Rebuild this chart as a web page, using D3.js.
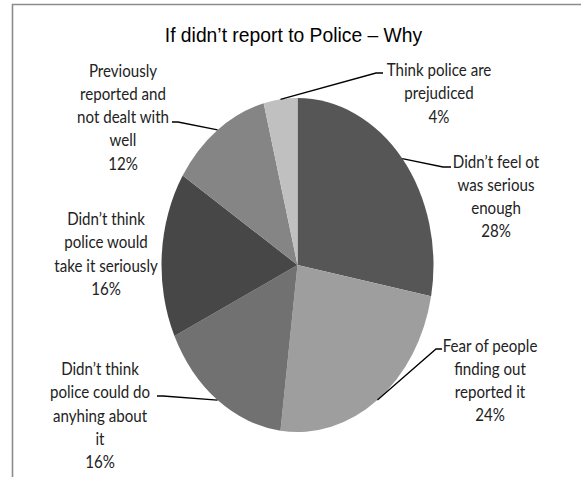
<!DOCTYPE html>
<html>
<head>
<meta charset="utf-8">
<script src="https://cdn.jsdelivr.net/npm/d3@7"></script>
<style>
  html, body { margin: 0; padding: 0; background: #fff; }
  svg { display: block; }
</style>
</head>
<body>
<svg id="chart" width="581" height="477"></svg>
<script>
// ---- data ----
const title = "If didn’t report to Police – Why";
const categories = [
  "Didn’t feel ot was serious enough",
  "Fear of people finding out reported it",
  "Didn’t think police could do anything about it",
  "Didn’t think police would take it seriously",
  "Previously reported and not dealt with well",
  "Think police are prejudiced"
];
const values = [28, 24, 16, 16, 12, 4];
const sliceColors = ["#565656", "#9e9e9e", "#717171", "#474747", "#858585", "#c0c0c0"];
const labelLines = [
  ["Didn’t feel ot", "was serious", "enough"],
  ["Fear of people", "finding out", "reported it"],
  ["Didn’t think", "police could do", "anyhing about", "it"],
  ["Didn’t think", "police would", "take it seriously"],
  ["Previously", "reported and", "not dealt with", "well"],
  ["Think police are", "prejudiced"]
];

// ---- layout ----
const svg = d3.select("#chart");
const cx = 297.5, cy = 265, rx = 136, ry = 167;
const fontFamily = "Lato, 'Open Sans', sans-serif";
const fontSize = 18, sx = 0.84, lineH = 23.3;

// frame (cropped chart border)
svg.append("path")
  .attr("d", "M12.5,481 L12.5,4.5 L585,4.5")
  .attr("fill", "none").attr("stroke", "#8c8c8c").attr("stroke-width", 1.6);

// title
svg.append("text")
  .attr("transform", "translate(293.5,42) scale(0.92,1)")
  .attr("text-anchor", "middle")
  .attr("font-family", "'Liberation Sans', Arial, sans-serif")
  .attr("font-size", 21)
  .attr("fill", "#000")
  .text(title);

const pie = d3.pie().sort(null).value(d => d)(values);
const arc = d3.arc().innerRadius(0).outerRadius(ry);

const pieG = svg.append("g")
  .attr("transform", `translate(${cx},${cy}) scale(${rx / ry},1)`);
pieG.selectAll("path").data(pie).join("path")
  .attr("d", arc)
  .attr("fill", (d, i) => sliceColors[i]);

// label placement: center x, first baseline y, leader elbow & end (null = no leader)
const labelPos = [
  { x: 496, y: 167.5, elbow: [443, 167], end: [451, 167] },
  { x: 490, y: 351.5, elbow: [436, 349], end: [442, 349] },
  { x: 100, y: 375, elbow: [163, 396], end: [157, 396] },
  { x: 106, y: 225, elbow: null },
  { x: 123, y: 76.5, elbow: [178, 122], end: [172, 122] },
  { x: 439, y: 76, elbow: [376, 73], end: [383, 73] }
];

const edgePoint = d => {
  const a = (d.startAngle + d.endAngle) / 2;
  return [cx + rx * Math.sin(a), cy - ry * Math.cos(a)];
};

// leader lines
pie.forEach((d, i) => {
  const p = labelPos[i];
  if (!p.elbow) return;
  const s = edgePoint(d);
  svg.append("path")
    .attr("d", d3.line()([s, p.elbow, p.end]))
    .attr("fill", "none").attr("stroke", "#000").attr("stroke-width", 1.3);
});

// labels
pie.forEach((d, i) => {
  const p = labelPos[i];
  const lines = labelLines[i].concat([d3.format(".0f")(values[i]) + "%"]);
  lines.forEach((ln, j) => {
    svg.append("text")
      .attr("transform", `translate(${p.x},${p.y + j * lineH}) scale(${sx},1)`)
      .attr("text-anchor", "middle")
      .attr("font-family", fontFamily)
      .attr("font-size", fontSize)
      .attr("fill", "#222")
      .text(ln);
  });
});
</script>
</body>
</html>
